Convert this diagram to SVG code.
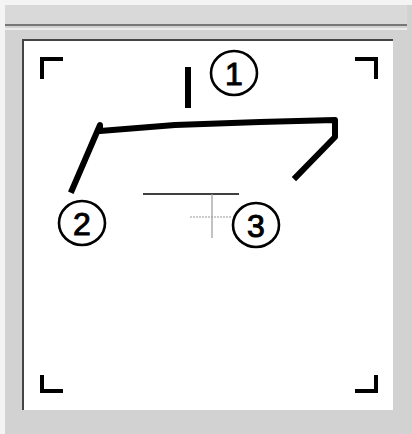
<svg xmlns="http://www.w3.org/2000/svg" width="412" height="434" viewBox="0 0 412 434">
<style>
.corner{fill:none;stroke:#000;stroke-width:4;stroke-linecap:butt}
.circ{fill:none;stroke:#000;stroke-width:2.6}
.num{font-family:"Liberation Sans",Arial,sans-serif;font-size:32px;fill:#000;stroke:#000;stroke-width:1;text-anchor:middle}
.thick{fill:none;stroke:#000;stroke-width:6;stroke-linejoin:round;stroke-linecap:square}
</style>
<rect x="0" y="0" width="412" height="434" fill="#d2d2d2"/>
<rect x="0" y="0" width="412" height="5" fill="#f4f4f4"/>
<rect x="0" y="0" width="5" height="434" fill="#f4f4f4"/>
<rect x="5" y="5" width="402" height="20" fill="#d9d9d9"/>
<line x1="5" y1="25" x2="407" y2="25" stroke="#777" stroke-width="2"/>
<line x1="5" y1="29" x2="407" y2="29" stroke="#ececec" stroke-width="2"/>
<rect x="22" y="39" width="371" height="371" fill="#fff"/>
<line x1="22" y1="40" x2="393" y2="40" stroke="#444" stroke-width="2"/>
<line x1="23" y1="39" x2="23" y2="410" stroke="#444" stroke-width="2"/>
<g id="frame-corners">
<polyline class="corner" points="63,59 42,59 42,79"/>
<polyline class="corner" points="355,59 376,59 376,79"/>
<polyline class="corner" points="42,375 42,391 63,391"/>
<polyline class="corner" points="355,391 376,391 376,375"/>
</g>
<g id="connectors">
<line x1="188" y1="67" x2="188" y2="108" stroke="#000" stroke-width="6"/>
<polyline class="thick" points="72,190 100,125 100,131 175,125 260,122 335,120 335,137 296,177"/>
<line x1="143" y1="194" x2="239" y2="194" stroke="#000" stroke-width="1.5"/>
<line x1="212" y1="194" x2="212" y2="238" stroke="#999" stroke-width="1.2"/>
<line x1="190" y1="217" x2="232" y2="217" stroke="#999" stroke-width="1.2" stroke-dasharray="2,1"/>
</g>
<g id="node1">
<ellipse class="circ" cx="234" cy="73" rx="23" ry="22"/>
<text class="num" x="234" y="85">1</text>
</g>
<g id="node2">
<ellipse class="circ" cx="82" cy="223" rx="23" ry="22"/>
<text class="num" x="82" y="235">2</text>
</g>
<g id="node3">
<ellipse class="circ" cx="256" cy="225" rx="23" ry="22"/>
<text class="num" x="256" y="237">3</text>
</g>
</svg>
